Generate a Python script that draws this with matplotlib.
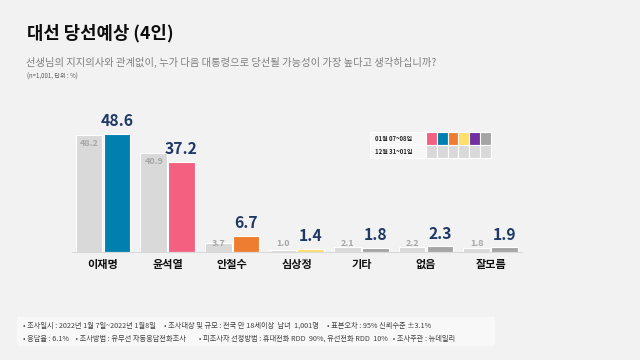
import numpy as np
import matplotlib.pyplot as plt
from matplotlib.patches import Rectangle

plt.rcParams['font.family'] = ['Noto Sans CJK KR', 'DejaVu Sans']

# 데이터
후보 = ['이재명', '윤석열', '안철수', '심상정', '기타', '없음', '잘모름']
이전 = [48.2, 40.9, 3.7, 1.0, 2.1, 2.2, 1.8]
이번 = [48.6, 37.2, 6.7, 1.4, 1.8, 2.3, 1.9]
색상 = ['#0080ae', '#f4607f', '#ef7d31', '#ffde6b', '#a5a5a5', '#a5a5a5', '#a5a5a5']
범례색 = ['#f4607f', '#0080ae', '#ef7d31', '#ffde6b', '#7030a0', '#a5a5a5']
범례라벨 = ['01월 07~08일', '12월 31~01일']

배경 = '#f2f2f2'
W, H = 640, 360

def px(x, y):
    # 픽셀 좌표(위에서부터) -> figure 좌표
    return x / W, 1 - y / H

fig = plt.figure(figsize=(6.4, 3.6), dpi=100)
fig.patch.set_facecolor(배경)

# 제목들
fig.text(*px(27, 33), '대선 당선예상 (4인)', fontsize=12.8, fontweight='bold',
         color='#0d0d0d', va='center', ha='left')
fig.text(*px(26, 62), '선생님의 지지의사와 관계없이, 누가 다음 대통령으로 당선될 가능성이 가장 높다고 생각하십니까?',
         fontsize=7.4, color='#7f7f7f', va='center', ha='left')
fig.text(*px(27, 77), '(n=1,001, 단위 : %)', fontsize=4.4, color='#595959', va='center', ha='left')

# 막대 그래프
ax = fig.add_axes([72 / W, 1 - 252 / H, 450 / W, 152 / H])
ax.set_facecolor(배경)
x = np.arange(len(후보))
w = 0.41
ax.bar(x - 0.215, 이전, width=w, color='#d9d9d9', edgecolor='white', linewidth=0.8)
ax.bar(x + 0.215, 이번, width=w, color=색상, edgecolor='white', linewidth=0.8)

for i in range(len(후보)):
    ax.text(x[i] - 0.215, max(이전[i] - 3.7, 3.3), f'{이전[i]:.1f}', ha='center', va='center',
            fontsize=6.5, fontweight='bold', color='#a6a6a6')
    ax.text(x[i] + 0.215, 이번[i] + 5.3, f'{이번[i]:.1f}', ha='center', va='center',
            fontsize=11.3, fontweight='bold', color='#1f3864')

ax.set_xlim(-0.48, 6.486)
ax.set_ylim(0, 62.55)
ax.set_xticks(x)
ax.set_xticklabels(후보, fontsize=8, fontweight='bold', color='#111111')
ax.tick_params(axis='x', length=0, pad=4)
ax.set_yticks([])
for s in ['top', 'right', 'left']:
    ax.spines[s].set_visible(False)
ax.spines['bottom'].set_color('#d9d9d9')
ax.spines['bottom'].set_linewidth(0.8)

# 범례 표
def 사각형(x0, y0, x1, y1, c, lw=0.8):
    fx0, fy1 = px(x0, y0)
    fx1, fy0 = px(x1, y1)
    fig.add_artist(Rectangle((fx0, fy0), fx1 - fx0, fy1 - fy0, transform=fig.transFigure,
                             facecolor=c, edgecolor='white', linewidth=lw))

행 = [(131.7, 145), (145, 158.3)]
for r, (y0, y1) in enumerate(행):
    사각형(370, y0, 426, y1, '#f7f7f7')
    fig.text(*px(375, (y0 + y1) / 2), 범례라벨[r], fontsize=4.3, fontweight='bold',
             color='#262626', va='center', ha='left')
    for k in range(6):
        c = 범례색[k] if r == 0 else '#d9d9d9'
        사각형(426 + k * 10.8, y0, 426 + (k + 1) * 10.8, y1, c)

# 하단 조사 개요
사각형(17, 317, 495, 346, '#f8f8f8', lw=0)
줄1 = '• 조사일시 : 2022년 1월 7일~2022년 1월8일     • 조사대상 및 규모 : 전국 만 18세이상  남녀  1,001명     • 표본오차 : 95% 신뢰수준 ±3.1%'
줄2 = '• 응답율 : 6.1%    • 조사방법 : 유무선 자동응답전화조사        • 피조사자 선정방법 : 휴대전화 RDD  90%, 유선전화 RDD  10%   • 조사주관 : 뉴데일리'
fig.text(*px(23, 325.7), 줄1, fontsize=5.2, color='#404040', va='center', ha='left')
fig.text(*px(23, 338.3), 줄2, fontsize=5.2, color='#404040', va='center', ha='left')

fig.savefig('out.png', dpi=100, facecolor=배경)
